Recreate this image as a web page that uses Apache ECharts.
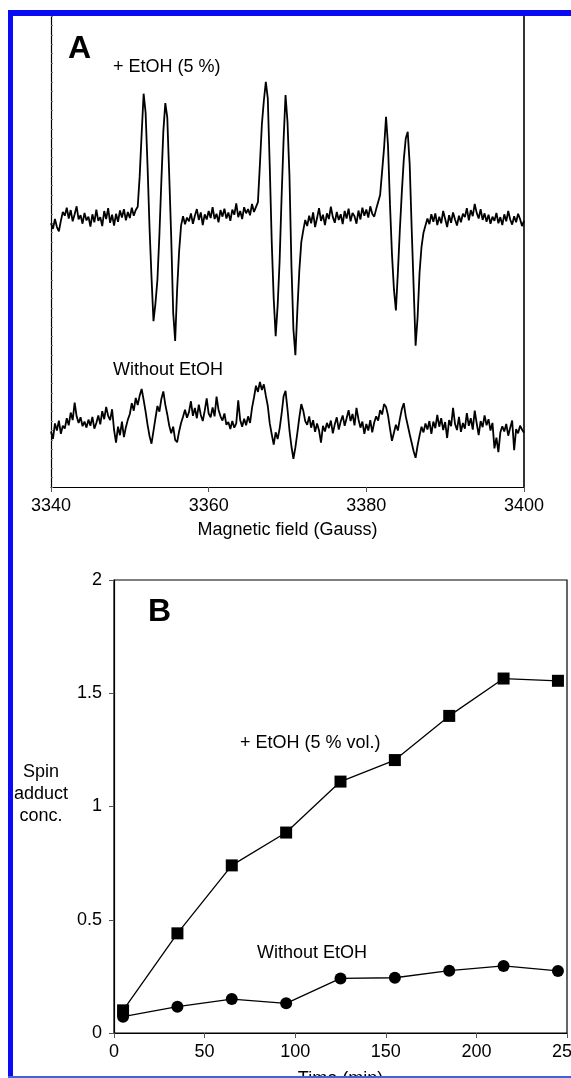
<!DOCTYPE html>
<html>
<head>
<meta charset="utf-8">
<script src="https://cdn.jsdelivr.net/npm/echarts@6/dist/echarts.min.js"></script>
<style>
  html, body { margin: 0; padding: 0; background: #fff; }
  #chart { width: 571px; height: 1078px; }
</style>
</head>
<body>
<div id="chart"></div>
<script>
// panel A: EPR spectra, sweep 3340 -> 3400 G, one point every 0.25 G
const fieldStart = 3340;
const fieldStep = 0.25;
const withEtOH = [
  56.0, 54.8, 56.9, 55.2, 54.3, 56.5, 58.4, 57.6, 59.3, 57.0,
  58.8, 56.4, 57.9, 59.6, 56.8, 57.7, 55.9, 58.2, 56.6, 57.4,
  55.3, 57.9, 56.2, 58.9, 56.5, 57.3, 55.4, 58.6, 56.9, 59.2,
  56.1, 57.8, 55.5, 58.0, 56.3, 58.7, 57.2, 59.0, 56.6, 58.4,
  57.1, 59.3, 57.6, 58.8, 59.5, 66.0, 75.0, 83.5, 79.5, 68.0,
  55.0, 44.5, 35.2, 39.0, 44.0, 53.5, 65.0, 75.5, 81.5, 78.5,
  66.0, 53.0, 37.0, 31.0, 42.0, 50.0, 55.5, 57.5, 55.8, 57.2,
  56.4, 58.1, 55.9, 57.6, 59.0, 56.7, 58.3, 55.6, 57.9, 56.8,
  58.6, 57.1, 59.4, 56.9, 58.0, 56.2, 58.8, 57.4, 59.1, 57.0,
  58.3, 56.5, 58.9, 57.8, 60.2, 57.3, 58.6, 56.9, 59.4, 58.1,
  59.0, 57.7, 60.1, 58.4, 58.5, 60.5, 68.5, 77.0, 82.0, 86.0,
  82.5, 68.0, 52.0, 40.0, 32.0, 38.5, 48.0, 61.5, 73.5, 83.2,
  77.5, 66.0, 47.0, 33.5, 28.0, 37.5, 46.0, 52.0, 54.5, 56.7,
  55.4, 57.6, 56.0, 58.3, 55.2, 57.1, 59.2, 56.5, 57.8, 55.6,
  58.1, 56.9, 59.5, 57.3, 56.1, 58.4, 56.7, 57.9, 55.8, 58.6,
  57.0, 59.1, 56.4, 58.2, 57.5, 55.9, 58.7, 56.8, 59.3, 57.6,
  58.9, 57.2, 59.6, 58.0, 57.4, 59.0, 58.6, 62.0, 67.0, 72.0,
  78.6, 72.5, 60.0, 49.5, 42.0, 37.5, 45.5, 54.5, 62.5, 69.5,
  74.0, 75.4, 68.5, 55.0, 42.5, 30.0, 36.0, 45.5, 51.0, 54.0,
  55.5, 57.0, 55.8, 57.9, 56.3, 58.1, 55.6, 57.4, 56.0, 58.6,
  56.9, 55.2, 57.7, 56.1, 58.3, 56.8, 55.5, 57.6, 56.2, 58.0,
  57.3, 59.2, 56.6, 58.8, 57.5, 60.1, 58.2, 57.0, 59.0, 56.7,
  58.1, 56.3, 57.8, 55.9, 57.4, 56.5, 58.2, 56.0, 57.3, 55.6,
  57.9, 56.4, 58.6, 56.8, 55.7, 57.5, 56.2, 58.0, 56.9, 55.4,
  56.5
];
const withoutEtOH = [
  11.8, 10.2, 13.5, 12.0, 14.1, 11.3, 13.0, 12.4, 14.6, 13.1,
  15.8, 14.2, 17.9, 15.0, 13.6, 14.8, 12.9, 13.9, 12.6, 14.3,
  13.0, 14.9, 12.4, 13.6, 15.2, 13.3, 16.1, 14.4, 17.0, 15.1,
  14.2, 16.5, 12.1, 9.4, 12.8, 11.0, 13.9, 10.6, 12.7, 14.3,
  15.5, 17.8, 16.2, 18.9, 17.4, 19.4, 20.8, 18.5, 16.0, 13.2,
  10.8, 9.2, 11.9, 14.6, 17.2, 16.0, 18.7, 20.3, 17.5, 15.4,
  13.0, 11.4, 12.8, 10.0, 9.5, 11.8, 13.6, 14.9, 16.4, 14.7,
  15.9, 18.2, 15.1, 16.8, 14.6, 17.5, 15.3, 14.0, 16.2, 18.8,
  15.6, 14.8, 16.9, 15.0, 19.2, 16.4, 15.0, 14.1, 15.6, 13.2,
  13.8, 12.3, 14.0, 12.6, 13.5, 18.4, 14.2, 12.8, 14.5, 13.1,
  15.0, 13.6, 16.8, 19.0, 21.5, 20.2, 22.3, 20.6, 21.8, 19.4,
  17.2, 13.5, 11.2, 9.0, 11.6, 10.2, 12.4, 15.5, 19.2, 20.4,
  16.5, 12.0, 8.6, 6.0, 8.4, 11.5, 14.8, 17.6, 16.2, 14.0,
  13.2, 15.0, 12.6, 14.2, 11.7, 13.5, 12.0, 9.4, 13.0, 11.8,
  13.6, 12.5, 14.1, 11.4, 13.3, 14.8, 12.2, 13.9, 15.2, 13.0,
  14.6, 16.3, 14.0, 15.5, 13.1, 16.8, 14.4, 12.6, 13.9, 11.3,
  13.4, 12.0, 14.2, 11.6, 13.7, 15.0, 14.1, 16.3, 15.4, 17.6,
  17.0, 15.2, 12.4, 9.8, 11.5, 13.2, 12.0, 14.4, 16.5, 17.8,
  15.0, 13.1, 11.2, 9.4, 7.6, 6.2, 8.8, 10.9, 12.8, 11.6,
  13.5, 12.2, 14.0, 11.3, 13.9, 12.5, 15.3, 12.8, 14.6, 12.1,
  13.8, 10.4, 14.2, 12.9, 16.8, 13.4, 12.1, 14.9, 11.7, 13.6,
  12.4, 15.7, 13.0, 14.6, 12.2, 16.2, 13.5, 11.0, 14.0, 12.7,
  15.2, 13.1, 14.4, 12.0, 13.6, 8.2, 10.5, 7.4, 11.6, 12.9,
  11.8, 13.4, 10.9, 12.6, 14.1, 7.8, 12.3, 11.4, 13.0, 12.2,
  11.5
];

// panel B: spin adduct concentration vs time
const timeMin = [5, 35, 65, 95, 125, 155, 185, 215, 245];
const concEtOH = [0.10, 0.44, 0.74, 0.885, 1.11, 1.205, 1.40, 1.565, 1.555];
const concNoEtOH = [0.072, 0.116, 0.15, 0.131, 0.241, 0.244, 0.275, 0.296, 0.274];

const FONT = '"Liberation Sans", Arial, Helvetica, sans-serif';

function toPairs(arr) {
  return arr.map((v, i) => [fieldStart + i * fieldStep, v]);
}
function zip(xs, ys) {
  return xs.map((x, i) => [x, ys[i]]);
}

const chart = echarts.init(document.getElementById('chart'));

const blackLine = { color: '#000', width: 1.2 };
const tickStyle = { color: '#555', width: 1 };
const plain = v => String(v);

const option = {
  animation: false,
  backgroundColor: '#fff',
  textStyle: { fontFamily: FONT, color: '#000' },
  grid: [
    { left: 51, top: 16, width: 473, height: 471, outerBoundsMode: 'none', containLabel: false },
    { left: 114, top: 580, width: 453, height: 453, outerBoundsMode: 'none', containLabel: false,
      show: true, borderColor: '#000', borderWidth: 1.2 }
  ],
  xAxis: [
    {
      gridIndex: 0, type: 'value', min: 3340, max: 3400, interval: 20,
      name: 'Magnetic field (Gauss)', nameLocation: 'middle', nameGap: 34,
      nameTextStyle: { fontSize: 18, color: '#000', fontFamily: FONT },
      axisLine: { lineStyle: blackLine },
      axisTick: { length: 5, lineStyle: tickStyle },
      axisLabel: { fontSize: 18, color: '#000', margin: 10, fontFamily: FONT, formatter: plain },
      splitLine: { show: false }
    },
    {
      gridIndex: 1, type: 'value', min: 0, max: 250, interval: 50,
      name: 'Time (min)', nameLocation: 'middle', nameGap: 37,
      nameTextStyle: { fontSize: 18, color: '#000', fontFamily: FONT },
      axisLine: { lineStyle: blackLine },
      axisTick: { length: 5, lineStyle: tickStyle },
      axisLabel: { fontSize: 18, color: '#000', margin: 10, fontFamily: FONT, formatter: plain },
      splitLine: { show: false }
    }
  ],
  yAxis: [
    {
      gridIndex: 0, type: 'value', min: 0, max: 100, interval: 2,
      axisLine: { show: true, lineStyle: blackLine },
      axisTick: { show: true, inside: true, length: 2, lineStyle: { color: '#777', width: 1 } },
      axisLabel: { show: false },
      splitLine: { show: false }
    },
    {
      gridIndex: 0, type: 'value', min: 0, max: 100, position: 'right',
      axisLine: { show: true, lineStyle: { color: '#000', width: 1.6 } },
      axisTick: { show: false },
      axisLabel: { show: false },
      splitLine: { show: false }
    },
    {
      gridIndex: 1, type: 'value', min: 0, max: 2, interval: 0.5,
      axisLine: { show: true, lineStyle: blackLine },
      axisTick: { show: true, length: 5, lineStyle: tickStyle },
      axisLabel: { fontSize: 18, color: '#000', margin: 12, fontFamily: FONT, formatter: plain },
      splitLine: { show: false }
    }
  ],
  series: [
    {
      name: '+ EtOH (5 %)', type: 'line', xAxisIndex: 0, yAxisIndex: 0,
      data: toPairs(withEtOH), showSymbol: false, symbol: 'none',
      lineStyle: { color: '#000', width: 1.8 }
    },
    {
      name: 'Without EtOH', type: 'line', xAxisIndex: 0, yAxisIndex: 0,
      data: toPairs(withoutEtOH), showSymbol: false, symbol: 'none',
      lineStyle: { color: '#000', width: 1.8 }
    },
    {
      name: '+ EtOH (5 % vol.)', type: 'line', xAxisIndex: 1, yAxisIndex: 2,
      data: zip(timeMin, concEtOH), symbol: 'rect', symbolSize: 12,
      itemStyle: { color: '#000' }, lineStyle: { color: '#000', width: 1.3 }
    },
    {
      name: 'Without EtOH (B)', type: 'line', xAxisIndex: 1, yAxisIndex: 2,
      data: zip(timeMin, concNoEtOH), symbol: 'circle', symbolSize: 12,
      itemStyle: { color: '#000' }, lineStyle: { color: '#000', width: 1.3 }
    }
  ],
  graphic: [
    // blue frame of the page
    { type: 'rect', z: 100, shape: { x: 8, y: 10, width: 5, height: 1068 }, style: { fill: '#0a0af5' } },
    { type: 'rect', z: 100, shape: { x: 8, y: 10, width: 563, height: 6 }, style: { fill: '#0a0af5' } },
    { type: 'rect', z: 100, shape: { x: 8, y: 1076, width: 563, height: 2 }, style: { fill: '#4060e0' } },
    // panel letters and annotations
    { type: 'text', z: 50, x: 68, y: 49, style: { text: 'A', font: 'bold 32px ' + FONT, fill: '#000', textVerticalAlign: 'middle' } },
    { type: 'text', z: 50, x: 113, y: 67, style: { text: '+ EtOH (5 %)', font: '18px ' + FONT, fill: '#000', textVerticalAlign: 'middle' } },
    { type: 'text', z: 50, x: 113, y: 370, style: { text: 'Without EtOH', font: '18px ' + FONT, fill: '#000', textVerticalAlign: 'middle' } },
    { type: 'text', z: 50, x: 148, y: 612, style: { text: 'B', font: 'bold 32px ' + FONT, fill: '#000', textVerticalAlign: 'middle' } },
    { type: 'text', z: 50, x: 240, y: 743, style: { text: '+ EtOH (5 % vol.)', font: '18px ' + FONT, fill: '#000', textVerticalAlign: 'middle' } },
    { type: 'text', z: 50, x: 257, y: 953, style: { text: 'Without EtOH', font: '18px ' + FONT, fill: '#000', textVerticalAlign: 'middle' } },
    { type: 'text', z: 50, x: 41, y: 794, style: { text: 'Spin\nadduct\nconc.', font: '18px ' + FONT, lineHeight: 22, fill: '#000', textAlign: 'center', textVerticalAlign: 'middle' } }
  ]
};

chart.setOption(option);
</script>
</body>
</html>
